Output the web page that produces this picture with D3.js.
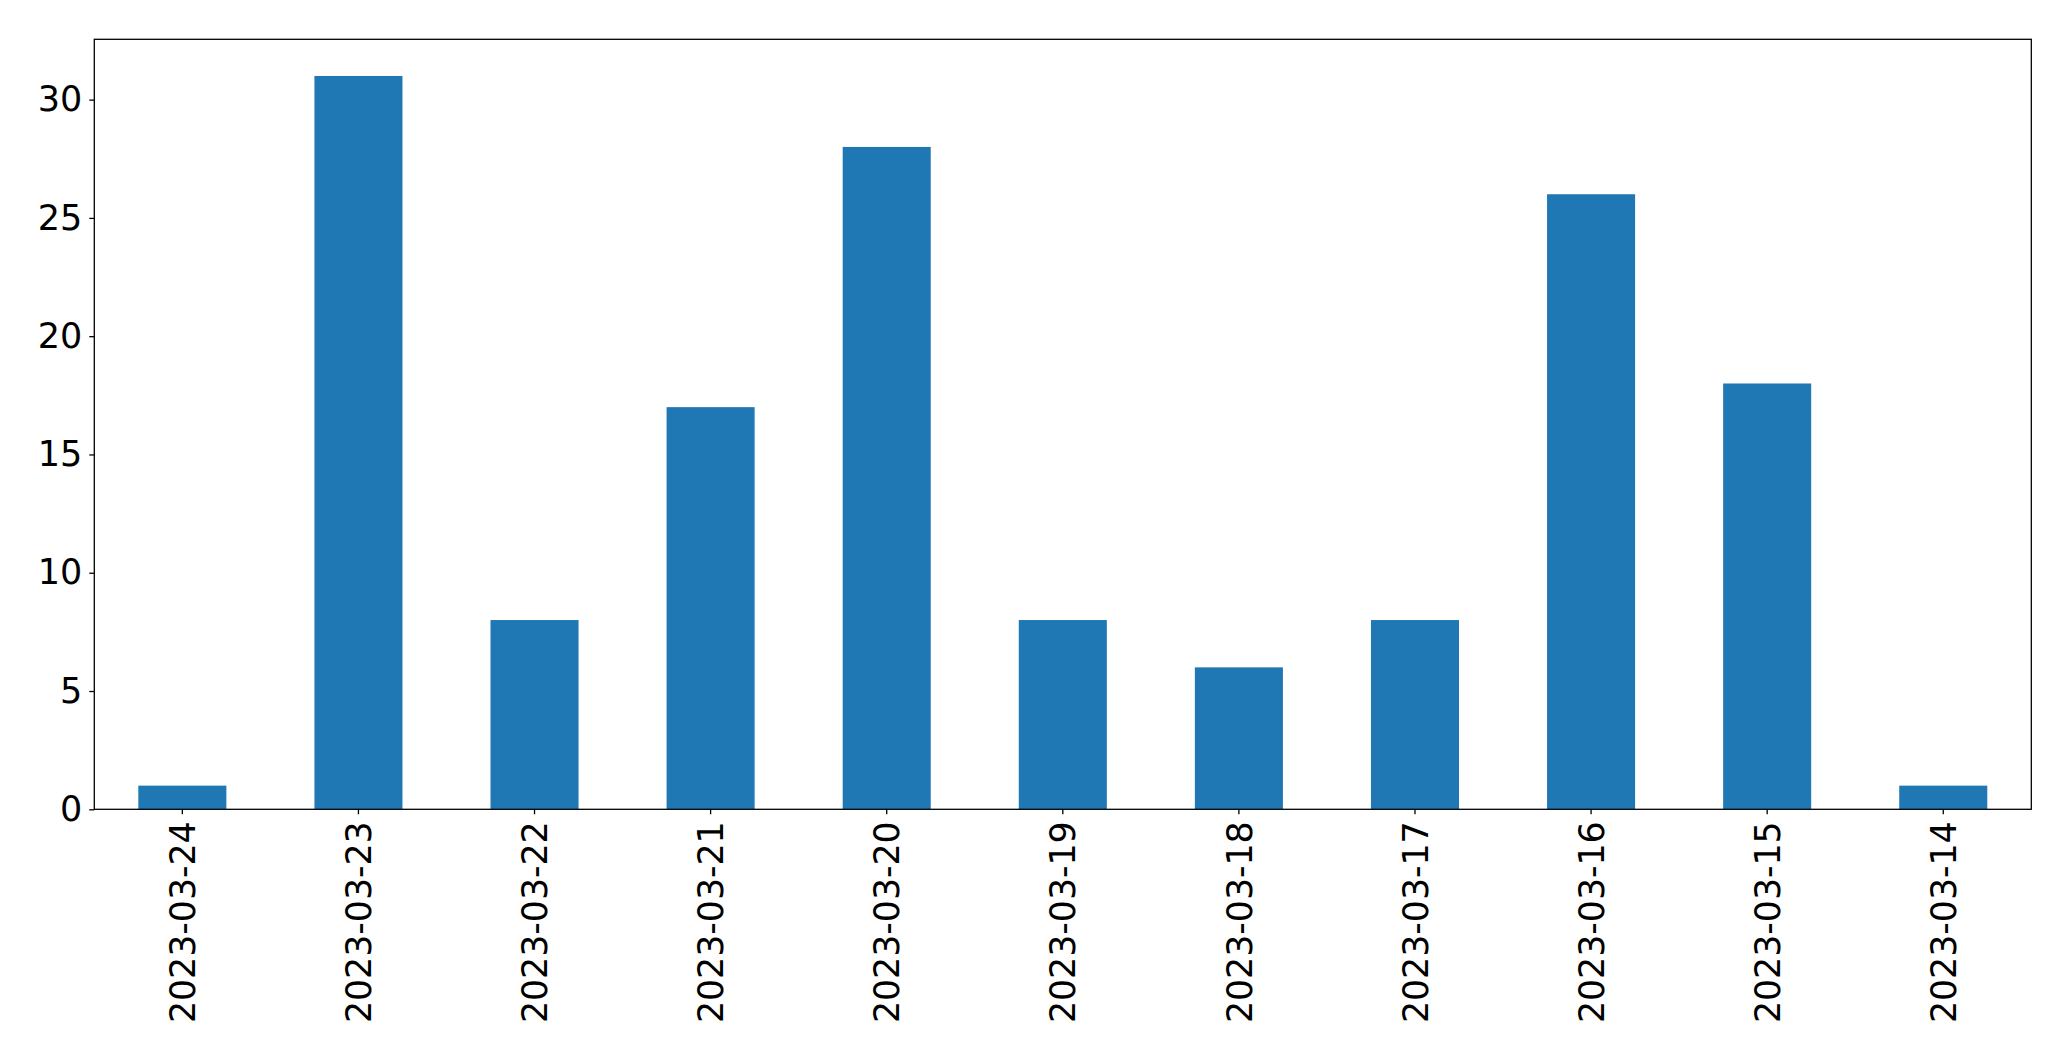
<!DOCTYPE html>
<html><head><meta charset="utf-8">
<script src="https://cdn.jsdelivr.net/npm/d3@7"></script>
<style>body{margin:0;background:#fff;} svg{display:block;}</style>
</head><body>
<svg id="chart" width="2071" height="1061"></svg>
<script>
const categories = ["2023-03-24","2023-03-23","2023-03-22","2023-03-21","2023-03-20","2023-03-19","2023-03-18","2023-03-17","2023-03-16","2023-03-15","2023-03-14"];
const values = [1,31,8,17,28,8,6,8,26,18,1];
const yTicks = [0,5,10,15,20,25,30];

const svg = d3.select("#chart");
const m = {left:94.3, right:2071-2031.3, top:39.3, bottom:1061-809.3};
const W = 2071 - m.left - m.right, H = 1061 - m.top - m.bottom;
const g = svg.append("g").attr("transform", `translate(${m.left},${m.top})`);

const x = d3.scaleBand().domain(categories).range([0, W]).paddingInner(0.5).paddingOuter(0.25);
const y = d3.scaleLinear().domain([0, d3.max(values)*1.05]).range([H, 0]);

g.selectAll("rect.bar").data(values).join("rect")
  .attr("class","bar")
  .attr("x",(d,i)=>x(categories[i]))
  .attr("width",x.bandwidth())
  .attr("y",d=>y(d))
  .attr("height",d=>H-y(d))
  .attr("fill","#1f77b4");

const font = "DejaVu Sans";
const yAxis = g.append("g").call(d3.axisLeft(y).tickValues(yTicks).tickSize(5).tickPadding(7).tickFormat(d3.format("d")));
yAxis.select(".domain").remove();
yAxis.selectAll("text").attr("font-family",font).attr("font-size",35).attr("fill","#000");
yAxis.selectAll("line").attr("stroke","#000").attr("stroke-width",1.3);

const xAxis = g.append("g").attr("transform",`translate(0,${H})`).call(d3.axisBottom(x).tickSize(5).tickPadding(0));
xAxis.select(".domain").remove();
xAxis.selectAll("line").attr("stroke","#000").attr("stroke-width",1.3);
xAxis.selectAll("text")
  .attr("font-family",font).attr("font-size",36).attr("fill","#000")
  .attr("transform","translate(0,12) rotate(-90) scale(0.965,1)")
  .attr("text-anchor","end").attr("dy","0.35em").attr("x",0).attr("y",0);

g.append("rect").attr("x",0).attr("y",0).attr("width",W).attr("height",H)
  .attr("fill","none").attr("stroke","#000").attr("stroke-width",1.3);
</script>
</body></html>
